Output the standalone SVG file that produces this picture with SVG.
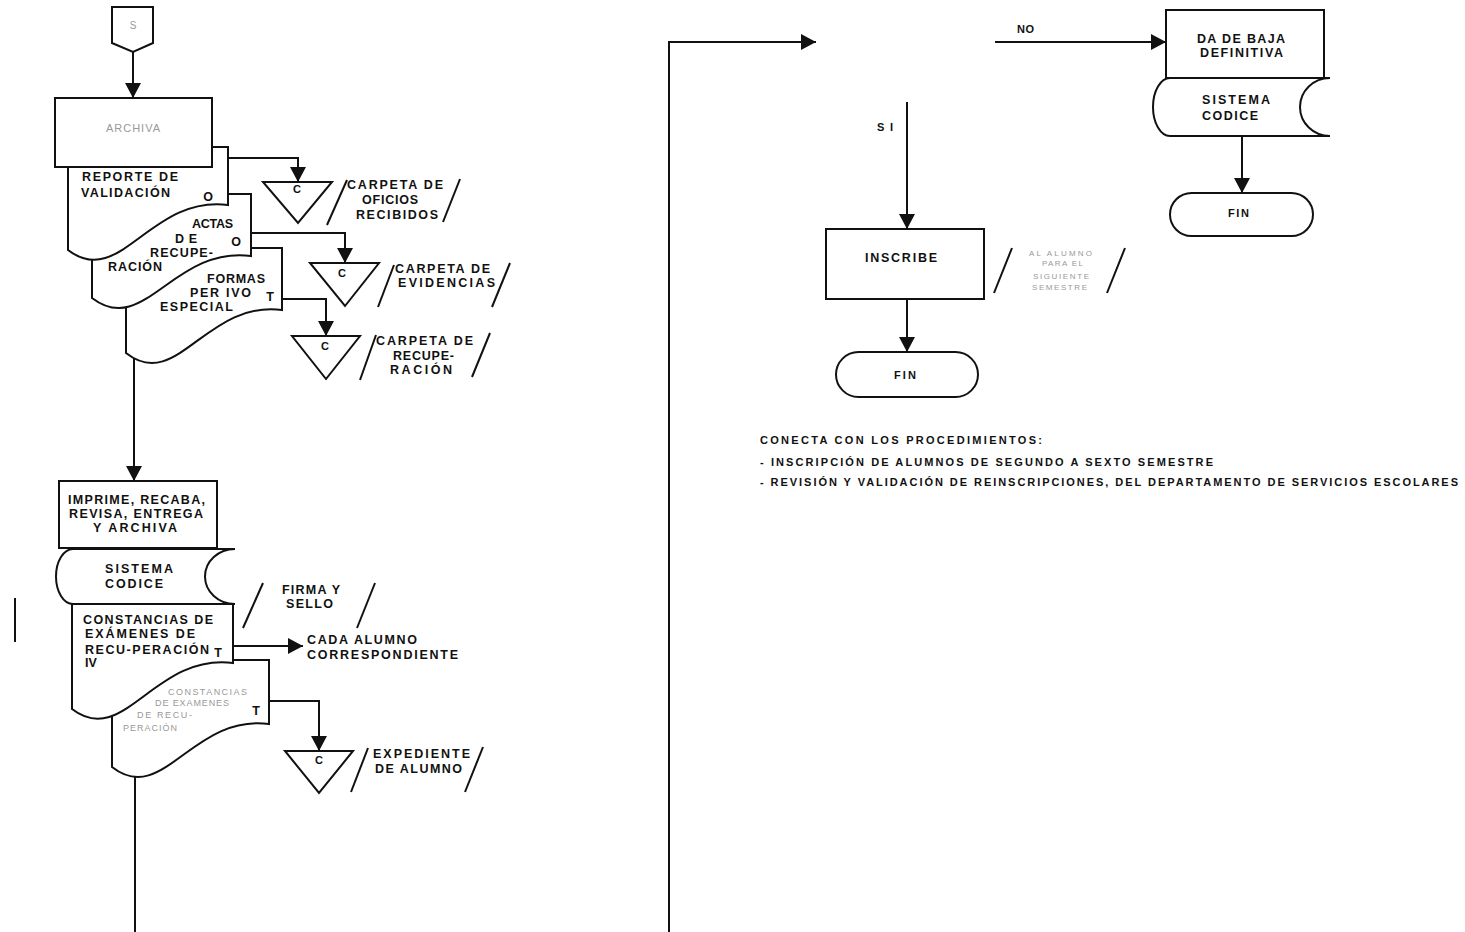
<svg xmlns="http://www.w3.org/2000/svg" width="1465" height="932" viewBox="0 0 1465 932">
<style>
.ln{stroke:#111;stroke-width:2;fill:none}
.sh{fill:#fff;stroke:#111;stroke-width:2}
.t{font-family:'Liberation Sans',Arial,sans-serif;font-weight:bold;font-size:12.5px;fill:#111}
.s{font-size:11px}
.g{font-family:'Liberation Sans',Arial,sans-serif;font-weight:normal;fill:#999}
.c{text-anchor:middle}
</style>
<defs>
<marker id="ah" viewBox="0 0 15 16" refX="15" refY="8" markerWidth="15" markerHeight="16" markerUnits="userSpaceOnUse" orient="auto">
<path d="M0,0 L15,8 L0,16 Z" fill="#111"/>
</marker>
</defs>
<rect width="1465" height="932" fill="#fff"/>

<g id="connectors">
<line class="ln" x1="133" y1="52" x2="133" y2="98" marker-end="url(#ah)"/>
<polyline class="ln" points="228,158 298,158 298,182" marker-end="url(#ah)"/>
<polyline class="ln" points="251,233 345,233 345,263" marker-end="url(#ah)"/>
<polyline class="ln" points="282,299 326,299 326,336" marker-end="url(#ah)"/>
<line class="ln" x1="134" y1="340" x2="134" y2="481" marker-end="url(#ah)"/>
<line class="ln" x1="233" y1="646" x2="303" y2="646" marker-end="url(#ah)"/>
<polyline class="ln" points="269,701 319,701 319,751" marker-end="url(#ah)"/>
<line class="ln" x1="135" y1="760" x2="135" y2="932"/>
<polyline class="ln" points="669,932 669,42 816,42" marker-end="url(#ah)"/>
<line class="ln" x1="995" y1="42" x2="1166" y2="42" marker-end="url(#ah)"/>
<line class="ln" x1="907" y1="102" x2="907" y2="229" marker-end="url(#ah)"/>
<line class="ln" x1="907" y1="299" x2="907" y2="352" marker-end="url(#ah)"/>
<line class="ln" x1="1242" y1="136" x2="1242" y2="193" marker-end="url(#ah)"/>
<line class="ln" x1="15" y1="598" x2="15" y2="642"/>
<text class="t s" x="1017" y="33" textLength="17">NO</text>
<text class="t s" x="877" y="131" textLength="16">SI</text>
</g>

<g id="connector-s">
<path class="sh" d="M112,7 H153 V43 L133,52 L112,43 Z"/>
<text class="g c" x="133" y="29" font-size="10">S</text>
</g>

<g id="doc-formas">
<path class="sh" d="M126,248 H282 V310 C206,300 177,393 126,353 Z"/>
<text class="t" x="207" y="283" textLength="58">FORMAS</text>
<text class="t" x="190" y="297" textLength="61">PER IVO</text>
<text class="t" x="160" y="311" textLength="73">ESPECIAL</text>
<text class="t c" x="270" y="301">T</text>
</g>

<g id="doc-actas">
<path class="sh" d="M92,194 H251 V256 C173,246 144,338 92,298 Z"/>
<text class="t" x="192" y="228" textLength="41">ACTAS</text>
<text class="t" x="175" y="243" textLength="22">DE</text>
<text class="t" x="150" y="257" textLength="63">RECUPE-</text>
<text class="t" x="108" y="271" textLength="54">RACIÓN</text>
<text class="t c" x="236" y="246">O</text>
</g>

<g id="doc-reporte">
<path class="sh" d="M68,147 H228 V205 C150,195 120,290 68,250 Z"/>
<text class="t" x="82" y="181" textLength="96">REPORTE DE</text>
<text class="t" x="81" y="197" textLength="89">VALIDACIÓN</text>
<text class="t c" x="208" y="201">O</text>
</g>

<g id="archiva">
<rect class="sh" x="55" y="98" width="157" height="69"/>
<text class="g c" x="133" y="132" font-size="11" textLength="54">ARCHIVA</text>
</g>

<g id="file-oficios">
<polygon class="sh" points="263,182 332,182 298,223"/>
<text class="t c s" x="297" y="193">C</text>
<line class="ln" x1="327" y1="225" x2="347" y2="180"/>
<line class="ln" x1="443" y1="222" x2="460" y2="179"/>
<text class="t" x="347" y="189" textLength="96">CARPETA DE</text>
<text class="t" x="362" y="204" textLength="56">OFICIOS</text>
<text class="t" x="356" y="219" textLength="82">RECIBIDOS</text>
</g>

<g id="file-evidencias">
<polygon class="sh" points="310,263 379,263 345,306"/>
<text class="t c s" x="342" y="277">C</text>
<line class="ln" x1="378" y1="307" x2="394" y2="265"/>
<line class="ln" x1="492" y1="307" x2="510" y2="263"/>
<text class="t" x="395" y="273" textLength="95">CARPETA DE</text>
<text class="t" x="398" y="287" textLength="97">EVIDENCIAS</text>
</g>

<g id="file-recuperacion">
<polygon class="sh" points="292,336 360,336 326,379"/>
<text class="t c s" x="325" y="350">C</text>
<line class="ln" x1="360" y1="380" x2="376" y2="335"/>
<line class="ln" x1="472" y1="377" x2="490" y2="333"/>
<text class="t" x="376" y="345" textLength="97">CARPETA DE</text>
<text class="t" x="393" y="360" textLength="61">RECUPE-</text>
<text class="t" x="390" y="374" textLength="62">RACIÓN</text>
</g>

<g id="doc-constancias-copia">
<path class="sh" d="M112,660 H269 V724 C192,714 163,807 112,767 Z"/>
<text class="g" x="168" y="695" font-size="9" textLength="79">CONSTANCIAS</text>
<text class="g" x="155" y="706" font-size="9" textLength="74">DE EXAMENES</text>
<text class="g" x="137" y="718" font-size="9" textLength="55">DE RECU-</text>
<text class="g" x="123" y="731" font-size="9" textLength="54">PERACIÓN</text>
<text class="t c" x="256" y="715">T</text>
</g>

<g id="doc-constancias">
<path class="sh" d="M72,604 H233 V663 C154,653 124,749 72,709 Z"/>
<text class="t" x="83" y="624" textLength="130">CONSTANCIAS DE</text>
<text class="t" x="85" y="638" textLength="110">EXÁMENES DE</text>
<text class="t" x="85" y="654" textLength="124">RECU-PERACIÓN</text>
<text class="t" x="85" y="667">IV</text>
<text class="t c" x="218" y="657">T</text>
</g>

<g id="sistema-codice-1">
<path class="sh" d="M73,549 H235 A30 27.5 0 0 0 235,604 H73 A17 27.5 0 0 1 73,549 Z"/>
<text class="t" x="105" y="573" textLength="68">SISTEMA</text>
<text class="t" x="105" y="588" textLength="58">CODICE</text>
</g>

<g id="imprime">
<rect class="sh" x="59" y="481" width="158" height="67"/>
<text class="t" x="68" y="504" textLength="137">IMPRIME, RECABA,</text>
<text class="t" x="69" y="518" textLength="134">REVISA, ENTREGA</text>
<text class="t" x="93" y="532" textLength="84">Y ARCHIVA</text>
</g>

<g id="firma-sello">
<line class="ln" x1="243" y1="628" x2="263" y2="583"/>
<line class="ln" x1="357" y1="628" x2="375" y2="583"/>
<text class="t" x="282" y="594" textLength="58">FIRMA Y</text>
<text class="t" x="286" y="608" textLength="47">SELLO</text>
</g>

<g id="cada-alumno">
<text class="t" x="307" y="644" textLength="110">CADA ALUMNO</text>
<text class="t" x="307" y="659" textLength="151">CORRESPONDIENTE</text>
</g>

<g id="file-expediente">
<polygon class="sh" points="285,751 353,751 319,793"/>
<text class="t c s" x="319" y="764">C</text>
<line class="ln" x1="351" y1="792" x2="368" y2="748"/>
<line class="ln" x1="465" y1="792" x2="483" y2="747"/>
<text class="t" x="373" y="758" textLength="97">EXPEDIENTE</text>
<text class="t" x="375" y="773" textLength="87">DE ALUMNO</text>
</g>

<g id="baja">
<rect class="sh" x="1166" y="10" width="158" height="68"/>
<text class="t" x="1197" y="43" textLength="88">DA DE BAJA</text>
<text class="t" x="1200" y="57" textLength="83">DEFINITIVA</text>
</g>

<g id="sistema-codice-2">
<path class="sh" d="M1170,78 H1330 A30 29 0 0 0 1330,136 H1170 A17 29 0 0 1 1170,78 Z"/>
<text class="t" x="1202" y="104" textLength="68">SISTEMA</text>
<text class="t" x="1202" y="120" textLength="56">CODICE</text>
</g>

<g id="fin-2">
<rect class="sh" x="1170" y="193" width="143" height="43" rx="21.5"/>
<text class="t s" x="1228" y="217" textLength="21">FIN</text>
</g>

<g id="inscribe">
<rect class="sh" x="826" y="229" width="158" height="70"/>
<text class="t" x="865" y="262" textLength="72">INSCRIBE</text>
<line class="ln" x1="994" y1="293" x2="1012" y2="248"/>
<line class="ln" x1="1107" y1="293" x2="1125" y2="248"/>
<text class="g" x="1029" y="256" font-size="8" textLength="63">AL ALUMNO</text>
<text class="g" x="1042" y="266" font-size="8" textLength="41">PARA EL</text>
<text class="g" x="1033" y="279" font-size="8" textLength="56">SIGUIENTE</text>
<text class="g" x="1032" y="290" font-size="8" textLength="55">SEMESTRE</text>
</g>

<g id="fin-1">
<rect class="sh" x="836" y="352" width="142" height="45" rx="22.5"/>
<text class="t s" x="894" y="379" textLength="22">FIN</text>
</g>

<g id="nota">
<text class="t s" x="760" y="444" textLength="282">CONECTA CON LOS PROCEDIMIENTOS:</text>
<text class="t s" x="760" y="466" textLength="453">- INSCRIPCIÓN DE ALUMNOS DE SEGUNDO A SEXTO SEMESTRE</text>
<text class="t s" x="760" y="486" textLength="698">- REVISIÓN Y VALIDACIÓN DE REINSCRIPCIONES, DEL DEPARTAMENTO DE SERVICIOS ESCOLARES</text>
</g>
</svg>
